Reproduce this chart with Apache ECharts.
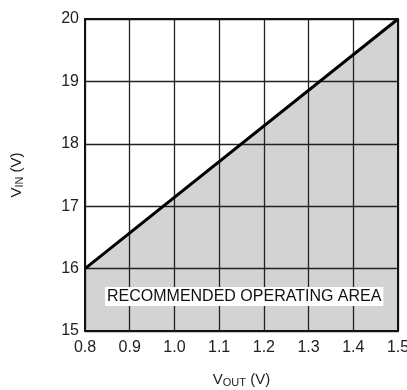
<!DOCTYPE html>
<html lang="en">
<head>
    <meta charset="UTF-8">
    <script src="https://cdn.jsdelivr.net/npm/echarts@6/dist/echarts.min.js"></script>
    <title>VIN vs VOUT</title>
    <style>body{margin:0;background:#fff;}</style>
</head>
<body>
    <div id="main" style="width: 407px;height:390px;"></div>
    <script type="text/javascript">
        // minimum input voltage line (boundary of recommended area)
        const vout = [0.8, 1.5];
        const vin = [16, 20];
        const xTicks = [0.8, 0.9, 1.0, 1.1, 1.2, 1.3, 1.4, 1.5];
        const yTicks = [15, 16, 17, 18, 19, 20];
        const areaLabel = 'RECOMMENDED OPERATING AREA';

        let myChart = echarts.init(document.getElementById('main'));
        const font = 'Liberation Sans, Arial, sans-serif';
        const points = vout.map((x, i) => [x, vin[i]]);

        const nameRich = {
            a: { fontSize: 15, fontFamily: font, color: '#222' },
            b: { fontSize: 11, fontFamily: font, color: '#222', padding: [6, 0, 0, 0] }
        };

        let options = {
            animation: false,
            grid: { left: 85, right: 9, top: 19, bottom: 59, outerBoundsMode: 'none' },
            xAxis: {
                type: 'value', z: 2,
                min: xTicks[0], max: xTicks[xTicks.length - 1], interval: 0.1,
                axisLine: { show: false },
                axisTick: { show: false },
                splitLine: { lineStyle: { color: '#222', width: 1.3 } },
                axisLabel: { color: '#222', fontSize: 16, fontFamily: font, margin: 9,
                    formatter: v => v.toFixed(1) },
                name: '{a|V}{b|OUT}{a| (V)}',
                nameLocation: 'middle', nameGap: 40,
                nameTextStyle: { rich: nameRich }
            },
            yAxis: {
                type: 'value', z: 2,
                min: yTicks[0], max: yTicks[yTicks.length - 1], interval: 1,
                axisLine: { show: false },
                axisTick: { show: false },
                splitLine: { lineStyle: { color: '#222', width: 1.3 } },
                axisLabel: { color: '#222', fontSize: 16, fontFamily: font, margin: 6 },
                name: '{a|V}{b|IN}{a| (V)}',
                nameLocation: 'middle', nameGap: 60,
                nameTextStyle: { rich: nameRich }
            },
            graphic: [
                { type: 'rect', x: 85, y: 19, shape: { width: 313, height: 312 },
                  style: { fill: 'none', stroke: '#111', lineWidth: 2 }, z: 10 },
                { type: 'text', x: 105, y: 287, z: 10,
                  style: { text: areaLabel, fontSize: 16, fontFamily: font, fill: '#111',
                    backgroundColor: '#fff', padding: [2, 2, 1, 2] } }
            ],
            series: [{
                // shaded area, drawn under the grid lines
                type: 'line', z: 1,
                data: points,
                symbol: 'none',
                lineStyle: { width: 0 },
                areaStyle: { color: '#d3d3d3', opacity: 1, origin: 'start' }
            }, {
                type: 'line', z: 3,
                data: points,
                symbol: 'none',
                lineStyle: { color: '#000', width: 3 }
            }]
        };
        myChart.setOption(options);
    </script>
</body>
</html>
